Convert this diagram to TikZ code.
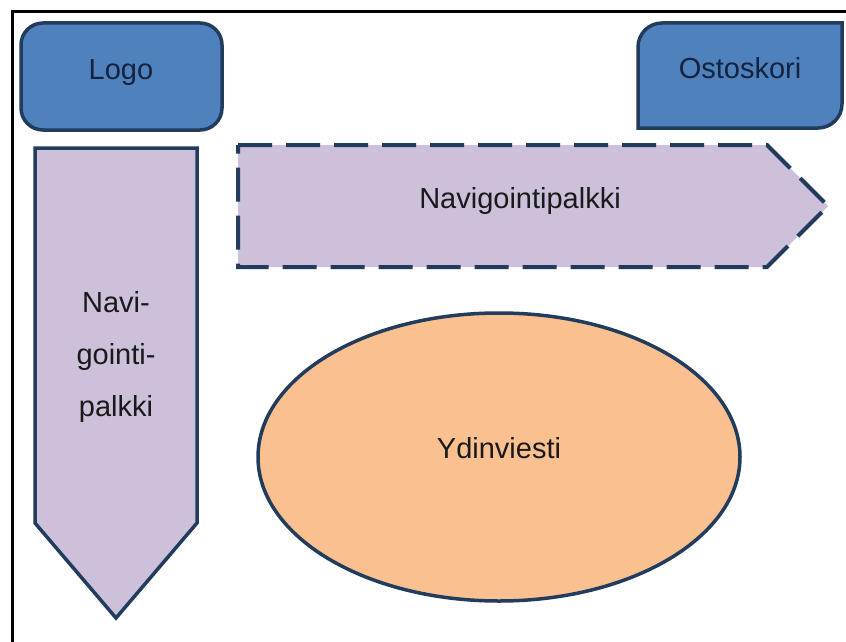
\documentclass[tikz,border=0pt]{standalone}
\usepackage{fontspec}
\setmainfont{Liberation Sans}
\definecolor{edge}{HTML}{223C5E}
\definecolor{sininen}{HTML}{4F81BD}
\definecolor{lila}{HTML}{CCC0DA}
\definecolor{persikka}{HTML}{FAC090}
\definecolor{tumma}{HTML}{14233F}
\definecolor{muste}{HTML}{1A1A1A}

\begin{document}
\begin{tikzpicture}[x=1pt, y=-1pt,
    box/.style = {draw=edge, line width=3.5pt, line join=miter},
    txt/.style = {anchor=base, font=\fontsize{29}{52}\selectfont, text=muste}]
    \useasboundingbox (0,0) rectangle (846,642);
    \draw[line width=3pt] (12,642) -- (12,12) -- (846,12);

    \filldraw[box, fill=sininen, rounded corners=22pt] (21,23) rectangle (222,130);
    \filldraw[box, fill=sininen] (638,128) -- (638,47) .. controls (638,33.75) and (648.75,23) .. (662,23)
        -- (842,23) -- (842,104) .. controls (842,117.25) and (831.25,128) .. (818,128) -- cycle;

    \filldraw[box, fill=lila] (35,148) -- (197,148) -- (197,523) -- (116,618) -- (35,523) -- cycle;
    \filldraw[box, fill=lila, line width=4pt, dash pattern=on 34pt off 14pt]
        (238,145) -- (767,145) -- (828,206) -- (767,267) -- (238,267) -- cycle;

    \filldraw[box, fill=persikka] (499,457) ellipse [x radius=241, y radius=144];

    \node[txt, text=tumma] (Logo) at (121,80) {Logo};
    \node[txt, text=tumma] (Kori) at (740,78) {Ostoskori};
    \node[txt] (NaviVaaka) at (520,208) {Navigointipalkki};
    \node[txt, anchor=center, align=center] (NaviPysty) at (116,357) {Navi-\\gointi-\\palkki};
    \node[txt] (Ydin) at (499,458) {Ydinviesti};
\end{tikzpicture}
\end{document}
